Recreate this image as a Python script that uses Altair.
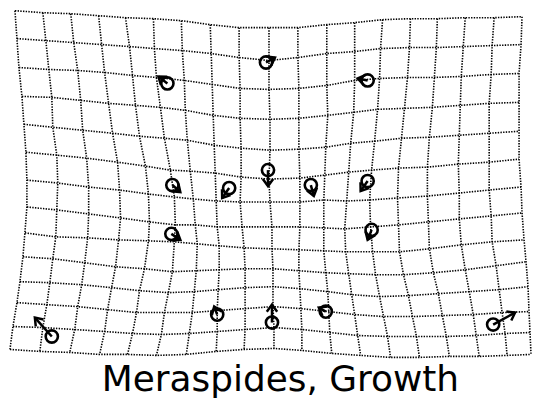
import math

import altair as alt
import pandas as pd

# Deformation grid: 14 horizontal lines x 19 vertical lines.
# ROW_Y[r][c] = vertical position of node (row r, column c)
ROW_Y = [
    [10, 12, 13, 15, 17, 18, 20, 24, 27, 27, 27, 24, 22, 19, 18, 18, 17, 17, 16],
    [38, 40, 42, 44, 46, 48, 50, 53, 57, 60, 57, 53, 51, 48, 47, 47, 46, 45, 44],
    [67, 69, 70, 72, 75, 77, 80, 84, 88, 89, 88, 85, 80, 78, 77, 77, 76, 74, 73],
    [96, 97, 100, 103, 105, 107, 110, 115, 118, 119, 118, 115, 112, 109, 108, 107, 105, 103, 102],
    [124, 127, 130, 133, 136, 138, 140, 145, 148, 150, 149, 147, 143, 141, 138, 137, 135, 133, 131],
    [152, 155, 158, 162, 166, 170, 171, 173, 177, 179, 178, 175, 172, 170, 168, 167, 164, 162, 159],
    [180, 183, 187, 190, 194, 197, 199, 201, 202, 202, 202, 200, 201, 200, 198, 196, 193, 190, 187],
    [207, 210, 214, 218, 222, 225, 225, 227, 227, 227, 227, 228, 229, 227, 225, 222, 219, 216, 213],
    [233, 237, 238, 240, 241, 242, 244, 246, 248, 249, 250, 251, 252, 252, 252, 249, 245, 242, 240],
    [257, 259, 263, 267, 269, 272, 271, 270, 269, 269, 271, 273, 274, 275, 275, 273, 270, 266, 262],
    [282, 283, 285, 288, 291, 293, 292, 290, 288, 287, 289, 292, 295, 297, 296, 294, 292, 290, 287],
    [303, 305, 307, 310, 313, 313, 313, 311, 309, 307, 309, 312, 315, 317, 317, 316, 315, 313, 312],
    [327, 328, 330, 332, 334, 335, 334, 332, 330, 328, 330, 333, 336, 337, 337, 337, 336, 334, 333],
    [350, 352, 353, 355, 355, 356, 355, 352, 350, 349, 351, 354, 356, 358, 358, 357, 357, 356, 355],
]

# COL_X[c][r] = horizontal position of node (row r, column c)
COL_X = [
    [15, 17, 19, 22, 24, 26, 27, 27, 25, 23, 20, 17, 13, 10],
    [43, 46, 49, 52, 53, 57, 58, 57, 56, 53, 50, 47, 43, 40],
    [71, 74, 78, 81, 83, 87, 89, 89, 88, 85, 82, 78, 75, 70],
    [99, 102, 105, 109, 113, 118, 120, 121, 119, 116, 112, 108, 105, 100],
    [126, 130, 133, 136, 140, 146, 149, 150, 149, 145, 140, 137, 133, 128],
    [154, 155, 157, 161, 165, 171, 175, 176, 175, 173, 169, 165, 162, 157],
    [182, 183, 185, 186, 188, 191, 194, 196, 198, 197, 195, 193, 190, 187],
    [211, 212, 213, 214, 215, 216, 217, 218, 220, 220, 219, 218, 218, 217],
    [240, 240, 241, 241, 242, 242, 241, 243, 245, 246, 246, 246, 246, 245],
    [270, 270, 270, 271, 271, 270, 271, 273, 273, 274, 274, 274, 275, 275],
    [299, 299, 300, 300, 300, 301, 301, 301, 300, 300, 301, 302, 303, 303],
    [328, 328, 328, 329, 327, 326, 325, 325, 325, 327, 329, 330, 331, 333],
    [356, 356, 356, 355, 352, 350, 348, 346, 347, 350, 353, 356, 359, 362],
    [384, 382, 381, 379, 376, 373, 371, 372, 374, 377, 381, 385, 389, 392],
    [412, 411, 409, 406, 403, 400, 399, 400, 401, 405, 410, 414, 418, 421],
    [439, 438, 436, 434, 431, 429, 429, 430, 431, 435, 440, 444, 448, 451],
    [467, 465, 463, 462, 461, 460, 461, 461, 463, 467, 471, 475, 478, 481],
    [496, 494, 493, 491, 491, 491, 491, 493, 494, 498, 501, 504, 507, 509],
    [524, 523, 521, 521, 521, 521, 523, 524, 526, 528, 530, 531, 532, 533],
]

# Landmarks (circle) and the tips of their displacement vectors
LM_X = [267, 168, 369, 269, 173, 230, 312, 369, 172, 373, 52, 218, 273, 327, 495]
LM_Y = [62, 83, 80, 170, 185, 188, 185, 181, 234, 230, 337, 315, 323, 312, 325]
TIP_X = [276, 159, 359, 269, 181, 223, 315, 362, 181, 369, 35, 215, 273, 320, 517]
TIP_Y = [57, 76, 78, 186, 192, 198, 196, 191, 240, 240, 318, 307, 305, 308, 313]

TITLE = "Meraspides, Growth"

# ---- tables -------------------------------------------------------------
n_rows, n_cols = len(ROW_Y), len(COL_X)
grid_records = []
for r in range(n_rows):
    for c in range(n_cols):
        grid_records.append({"line": f"row{r}", "seq": c, "x": COL_X[c][r], "y": ROW_Y[r][c]})
for c in range(n_cols):
    for r in range(n_rows):
        grid_records.append({"line": f"col{c}", "seq": r, "x": COL_X[c][r], "y": ROW_Y[r][c]})
grid = pd.DataFrame(grid_records)

vec = pd.DataFrame({"x": LM_X, "y": LM_Y, "tx": TIP_X, "ty": TIP_Y})
# heading of each vector, clockwise from "up" (y grows downward here)
vec["ang"] = [
    (math.degrees(math.atan2(tx - x, -(ty - y))) + 360) % 360
    for x, y, tx, ty in zip(LM_X, LM_Y, TIP_X, TIP_Y)
]

xs = alt.Scale(domain=[0, 535], nice=False, zero=False)
ys = alt.Scale(domain=[0, 362], nice=False, zero=False, reverse=True)

grid_layer = (
    alt.Chart(grid)
    .mark_line(color="black", strokeWidth=1.6, strokeDash=[1.4, 1.3])
    .encode(
        x=alt.X("x:Q", scale=xs, axis=None),
        y=alt.Y("y:Q", scale=ys, axis=None),
        detail="line:N",
        order="seq:Q",
    )
)

base = alt.Chart(vec)

shafts = base.mark_rule(color="black", strokeWidth=2.5).encode(
    x=alt.X("x:Q", scale=xs, axis=None),
    y=alt.Y("y:Q", scale=ys, axis=None),
    x2="tx:Q",
    y2="ty:Q",
)

# open "V" arrow head whose apex sits on the symbol position
HEAD = "M -0.8 1.1 L 0 0 L 0.8 1.1"
heads = base.mark_point(
    shape=HEAD, filled=False, size=170, color="black", strokeWidth=2.5, opacity=1
).encode(
    x=alt.X("tx:Q", scale=xs, axis=None),
    y=alt.Y("ty:Q", scale=ys, axis=None),
    angle=alt.Angle("ang:Q", scale=None),
)

circles = base.mark_point(
    shape="circle", filled=False, size=150, color="black", strokeWidth=2.6, opacity=1
).encode(
    x=alt.X("x:Q", scale=xs, axis=None),
    y=alt.Y("y:Q", scale=ys, axis=None),
)

chart = (
    alt.layer(grid_layer, shafts, heads, circles)
    .properties(
        width=535,
        height=362,
        padding=0,
        background="white",
        title=alt.TitleParams(
            TITLE,
            orient="bottom",
            anchor="middle",
            font="DejaVu Sans",
            fontSize=36,
            fontWeight="normal",
            color="black",
            offset=2,
            dx=14,
        ),
    )
    .configure_view(stroke=None)
)

chart.save("out.html", embed_options={"renderer": "svg", "actions": False})
